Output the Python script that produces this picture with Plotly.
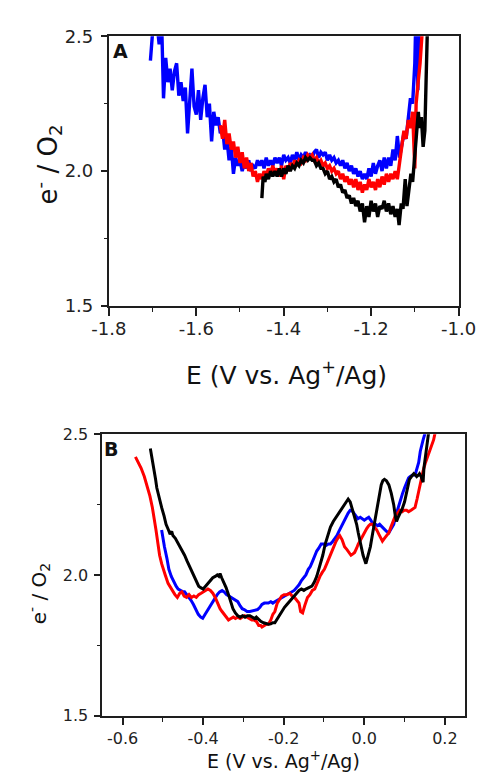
import plotly.graph_objects as go

# ---------------- Panel A: e-/O2 vs potential (V vs. Ag+/Ag) ----------------
a_blue_E = [-1.705, -1.700, -1.695, -1.690, -1.685, -1.680, -1.675, -1.670, -1.665, -1.660,
            -1.655, -1.650, -1.645, -1.640, -1.635, -1.630, -1.625, -1.620, -1.615, -1.610,
            -1.605, -1.600, -1.595, -1.590, -1.585, -1.580, -1.575, -1.570, -1.565, -1.560,
            -1.555, -1.550, -1.545, -1.540, -1.535, -1.530, -1.525, -1.520, -1.515, -1.510,
            -1.505, -1.500, -1.495, -1.490, -1.485, -1.480, -1.475, -1.470, -1.465, -1.460,
            -1.455, -1.450, -1.445, -1.440, -1.435, -1.430, -1.425, -1.420, -1.415, -1.410,
            -1.405, -1.400, -1.395, -1.390, -1.385, -1.380, -1.375, -1.370, -1.365, -1.360,
            -1.355, -1.350, -1.345, -1.340, -1.335, -1.330, -1.325, -1.320, -1.315, -1.310,
            -1.305, -1.300, -1.295, -1.290, -1.285, -1.280, -1.275, -1.270, -1.265, -1.260,
            -1.255, -1.250, -1.245, -1.240, -1.235, -1.230, -1.225, -1.220, -1.215, -1.210,
            -1.205, -1.200, -1.195, -1.190, -1.185, -1.180, -1.175, -1.170, -1.165, -1.160,
            -1.155, -1.150, -1.145, -1.140, -1.135, -1.130, -1.125, -1.120, -1.115, -1.110,
            -1.105, -1.100, -1.097, -1.093, -1.089, -1.085]
a_blue_n = [2.41, 2.58, 2.62, 2.55, 2.47, 2.60, 2.27, 2.42, 2.33, 2.38,
            2.30, 2.37, 2.40, 2.28, 2.33, 2.26, 2.31, 2.14, 2.28, 2.38,
            2.24, 2.21, 2.30, 2.19, 2.27, 2.32, 2.20, 2.25, 2.11, 2.22,
            2.17, 2.20, 2.14, 2.16, 2.08, 2.12, 2.04, 2.09, 1.99, 2.05,
            2.02, 2.04, 2.00, 2.03, 2.01, 2.04, 2.00, 2.02, 2.01, 2.04,
            2.02, 2.04, 2.01, 2.05, 2.02, 2.04, 2.02, 2.05, 2.03, 2.05,
            2.02, 2.06, 2.04, 2.05, 2.03, 2.06, 2.04, 2.07, 2.04, 2.06,
            2.05, 2.07, 2.05, 2.06, 2.05, 2.07, 2.08, 2.05, 2.07, 2.06,
            2.07, 2.04, 2.06, 2.04, 2.05, 2.03, 2.04, 2.02, 2.04, 2.01,
            2.03, 2.00, 2.02, 1.99, 2.01, 1.98, 2.00, 1.97, 1.99, 1.97,
            2.01, 1.98, 2.03, 1.99, 2.02, 2.04, 2.00, 2.05, 2.01, 2.05,
            2.02, 2.08, 2.04, 2.13, 2.05, 2.10, 2.14, 2.12, 2.20, 2.27,
            2.25, 2.40, 2.62, 2.30, 2.65, 2.80]

a_red_E = [-1.545, -1.540, -1.535, -1.530, -1.525, -1.520, -1.515, -1.510, -1.505, -1.500,
           -1.495, -1.490, -1.485, -1.480, -1.475, -1.470, -1.465, -1.460, -1.455, -1.450,
           -1.445, -1.440, -1.435, -1.430, -1.425, -1.420, -1.415, -1.410, -1.405, -1.400,
           -1.395, -1.390, -1.385, -1.380, -1.375, -1.370, -1.365, -1.360, -1.355, -1.350,
           -1.345, -1.340, -1.335, -1.330, -1.325, -1.320, -1.315, -1.310, -1.305, -1.300,
           -1.295, -1.290, -1.285, -1.280, -1.275, -1.270, -1.265, -1.260, -1.255, -1.250,
           -1.245, -1.240, -1.235, -1.230, -1.225, -1.220, -1.215, -1.210, -1.205, -1.200,
           -1.195, -1.190, -1.185, -1.180, -1.175, -1.170, -1.165, -1.160, -1.155, -1.150,
           -1.145, -1.140, -1.135, -1.130, -1.125, -1.120, -1.115, -1.110, -1.105, -1.100,
           -1.097, -1.093, -1.088, -1.083, -1.078]
a_red_n = [2.17, 2.12, 2.19, 2.10, 2.14, 2.08, 2.11, 2.05, 2.09, 2.03,
           2.07, 2.01, 2.05, 2.00, 2.03, 1.98, 2.00, 1.96, 1.99, 1.97,
           2.00, 1.98, 2.01, 1.99, 2.02, 1.99, 2.01, 1.98, 2.02, 1.97,
           2.02, 2.00, 2.03, 2.01, 2.04, 2.02, 2.04, 2.03, 2.05, 2.04,
           2.06, 2.05, 2.06, 2.04, 2.05, 2.03, 2.04, 2.02, 2.03, 2.01,
           2.02, 2.00, 2.01, 1.99, 2.00, 1.97, 1.99, 1.96, 1.98, 1.95,
           1.97, 1.94, 1.97, 1.93, 1.96, 1.92, 1.95, 1.93, 1.97, 1.94,
           1.96, 1.93, 1.97, 1.94, 1.98, 1.95, 1.99, 1.96, 1.99, 1.97,
           2.00, 1.97, 2.03, 2.10, 2.15, 2.12, 2.19, 2.16, 2.22, 2.01,
           2.25, 2.32, 2.40, 2.52, 2.70]

a_black_E = [-1.450, -1.447, -1.443, -1.440, -1.435, -1.430, -1.425, -1.420, -1.415, -1.410,
             -1.405, -1.400, -1.395, -1.390, -1.385, -1.380, -1.375, -1.370, -1.365, -1.360,
             -1.355, -1.350, -1.345, -1.340, -1.335, -1.330, -1.325, -1.320, -1.315, -1.310,
             -1.305, -1.300, -1.295, -1.290, -1.285, -1.280, -1.275, -1.270, -1.265, -1.260,
             -1.255, -1.250, -1.245, -1.240, -1.235, -1.230, -1.225, -1.220, -1.215, -1.210,
             -1.205, -1.200, -1.195, -1.190, -1.185, -1.180, -1.175, -1.170, -1.165, -1.160,
             -1.155, -1.150, -1.145, -1.140, -1.136, -1.131, -1.127, -1.122, -1.118, -1.113,
             -1.109, -1.105, -1.100, -1.096, -1.092, -1.089, -1.085, -1.081, -1.077, -1.074,
             -1.070, -1.067]
a_black_n = [1.90, 1.98, 1.96, 1.99, 1.97, 2.00, 1.98, 2.00, 1.98, 2.01,
             1.98, 2.01, 1.99, 2.02, 2.00, 2.02, 2.01, 2.03, 2.02, 2.04,
             2.03, 2.05, 2.04, 2.05, 2.04, 2.04, 2.02, 2.03, 2.01, 2.01,
             1.99, 2.00, 1.97, 1.98, 1.96, 1.97, 1.94, 1.95, 1.92, 1.93,
             1.90, 1.91, 1.88, 1.90, 1.87, 1.89, 1.85, 1.88, 1.81, 1.87,
             1.83, 1.89, 1.85, 1.88, 1.83, 1.87, 1.86, 1.89, 1.85, 1.88,
             1.84, 1.87, 1.83, 1.86, 1.80, 1.88, 1.86, 1.97, 1.87, 1.93,
             1.99, 1.96, 2.05, 2.14, 2.22, 2.16, 2.20, 2.09, 2.15, 2.35,
             2.60, 2.80]

# ---------------- Panel B ----------------
b_red_E = [-0.568, -0.560, -0.554, -0.546, -0.538, -0.532, -0.526, -0.521, -0.517, -0.512,
           -0.508, -0.503, -0.499, -0.494, -0.487, -0.481, -0.476, -0.470, -0.464, -0.458,
           -0.453, -0.447, -0.441, -0.435, -0.429, -0.423, -0.417, -0.411, -0.405, -0.400,
           -0.394, -0.388, -0.382, -0.376, -0.370, -0.364, -0.358, -0.353, -0.347, -0.342,
           -0.337, -0.331, -0.325, -0.320, -0.314, -0.308, -0.302, -0.297, -0.291, -0.285,
           -0.279, -0.274, -0.268, -0.262, -0.257, -0.254, -0.249, -0.243, -0.238, -0.232,
           -0.227, -0.222, -0.216, -0.211, -0.205, -0.199, -0.192, -0.185, -0.179, -0.173,
           -0.167, -0.162, -0.158, -0.153, -0.148, -0.141, -0.135, -0.129, -0.123, -0.116,
           -0.110, -0.104, -0.099, -0.093, -0.087, -0.081, -0.077, -0.070, -0.064, -0.061,
           -0.055, -0.049, -0.043, -0.037, -0.033, -0.028, -0.024, -0.019, -0.015, -0.009,
           -0.004, 0.000, 0.006, 0.011, 0.015, 0.020, 0.025, 0.031, 0.036, 0.041,
           0.045, 0.050, 0.055, 0.061, 0.066, 0.071, 0.077, 0.083, 0.088, 0.094,
           0.099, 0.105, 0.110, 0.116, 0.121, 0.126, 0.131, 0.137, 0.141, 0.146,
           0.152, 0.157, 0.160, 0.166, 0.172, 0.178]
b_red_n = [2.42, 2.40, 2.38, 2.35, 2.31, 2.28, 2.24, 2.20, 2.16, 2.11,
           2.07, 2.04, 2.02, 2.00, 1.97, 1.955, 1.94, 1.93, 1.92, 1.935,
           1.94, 1.925, 1.92, 1.93, 1.92, 1.925, 1.92, 1.93, 1.935, 1.94,
           1.945, 1.95, 1.945, 1.935, 1.92, 1.90, 1.88, 1.87, 1.86, 1.85,
           1.84, 1.845, 1.85, 1.845, 1.85, 1.845, 1.85, 1.855, 1.85, 1.845,
           1.84, 1.84, 1.835, 1.82, 1.82, 1.815, 1.82, 1.825, 1.825, 1.84,
           1.86, 1.87, 1.90, 1.91, 1.925, 1.93, 1.93, 1.935, 1.925, 1.92,
           1.91, 1.90, 1.87, 1.865, 1.89, 1.92, 1.93, 1.945, 1.95, 1.975,
           1.995, 2.01, 2.02, 2.04, 2.06, 2.08, 2.10, 2.12, 2.135, 2.14,
           2.125, 2.10, 2.09, 2.075, 2.07, 2.075, 2.08, 2.095, 2.11, 2.125,
           2.14, 2.15, 2.165, 2.175, 2.18, 2.18, 2.17, 2.16, 2.145, 2.13,
           2.12, 2.13, 2.14, 2.15, 2.17, 2.19, 2.21, 2.22, 2.23, 2.225,
           2.23, 2.23, 2.225, 2.23, 2.235, 2.24, 2.27, 2.31, 2.34, 2.37,
           2.40, 2.42, 2.43, 2.46, 2.48, 2.52]

b_blue_E = [-0.503, -0.499, -0.496, -0.490, -0.485, -0.479, -0.473, -0.467, -0.462, -0.456,
            -0.450, -0.446, -0.440, -0.435, -0.430, -0.424, -0.418, -0.412, -0.406, -0.401,
            -0.395, -0.389, -0.384, -0.378, -0.372, -0.365, -0.359, -0.353, -0.348, -0.342,
            -0.336, -0.330, -0.325, -0.319, -0.314, -0.308, -0.303, -0.298, -0.291, -0.284,
            -0.277, -0.271, -0.265, -0.259, -0.254, -0.248, -0.243, -0.238, -0.232, -0.227,
            -0.222, -0.216, -0.210, -0.204, -0.198, -0.192, -0.186, -0.180, -0.174, -0.168,
            -0.162, -0.156, -0.150, -0.145, -0.139, -0.134, -0.128, -0.123, -0.118, -0.113,
            -0.107, -0.101, -0.095, -0.089, -0.084, -0.078, -0.073, -0.068, -0.063, -0.058,
            -0.054, -0.049, -0.044, -0.040, -0.035, -0.031, -0.026, -0.021, -0.016, -0.010,
            -0.005, 0.000, 0.005, 0.011, 0.016, 0.022, 0.028, 0.033, 0.038, 0.044,
            0.050, 0.055, 0.061, 0.067, 0.073, 0.078, 0.084, 0.090, 0.095, 0.100,
            0.105, 0.110, 0.114, 0.120, 0.126, 0.131, 0.135, 0.139, 0.142, 0.146,
            0.150, 0.155]
b_blue_n = [2.16, 2.12, 2.10, 2.06, 2.02, 1.995, 1.975, 1.96, 1.95, 1.945,
            1.94, 1.94, 1.93, 1.92, 1.91, 1.895, 1.877, 1.86, 1.85, 1.846,
            1.86, 1.875, 1.885, 1.90, 1.915, 1.93, 1.94, 1.945, 1.94, 1.93,
            1.925, 1.92, 1.915, 1.91, 1.905, 1.89, 1.88, 1.877, 1.87, 1.87,
            1.872, 1.875, 1.877, 1.885, 1.895, 1.90, 1.90, 1.90, 1.905, 1.90,
            1.905, 1.91, 1.915, 1.92, 1.925, 1.93, 1.935, 1.94, 1.945, 1.955,
            1.965, 1.98, 1.99, 2.00, 2.02, 2.03, 2.05, 2.07, 2.085, 2.095,
            2.11, 2.11, 2.105, 2.11, 2.11, 2.12, 2.13, 2.14, 2.155, 2.17,
            2.18, 2.195, 2.21, 2.22, 2.23, 2.23, 2.22, 2.21, 2.20, 2.205,
            2.20, 2.195, 2.20, 2.205, 2.195, 2.18, 2.18, 2.175, 2.18, 2.17,
            2.16, 2.155, 2.15, 2.165, 2.18, 2.21, 2.24, 2.27, 2.29, 2.31,
            2.33, 2.345, 2.35, 2.355, 2.355, 2.38, 2.40, 2.44, 2.46, 2.48,
            2.50, 2.53]

b_black_E = [-0.531, -0.527, -0.522, -0.518, -0.515, -0.509, -0.503, -0.497, -0.492, -0.486,
             -0.482, -0.478, -0.475, -0.469, -0.463, -0.457, -0.452, -0.446, -0.440, -0.434,
             -0.428, -0.423, -0.417, -0.411, -0.406, -0.400, -0.394, -0.388, -0.382, -0.376,
             -0.370, -0.365, -0.361, -0.358, -0.354, -0.349, -0.343, -0.337, -0.331, -0.326,
             -0.320, -0.314, -0.308, -0.302, -0.296, -0.290, -0.284, -0.278, -0.272, -0.268,
             -0.262, -0.257, -0.250, -0.244, -0.238, -0.232, -0.227, -0.222, -0.216, -0.210,
             -0.204, -0.198, -0.192, -0.186, -0.180, -0.174, -0.169, -0.162, -0.156, -0.150,
             -0.145, -0.138, -0.130, -0.124, -0.118, -0.113, -0.108, -0.103, -0.097, -0.091,
             -0.084, -0.077, -0.070, -0.064, -0.058, -0.054, -0.047, -0.040, -0.035, -0.031,
             -0.025, -0.019, -0.015, -0.009, -0.003, 0.004, 0.010, 0.015, 0.021, 0.026,
             0.031, 0.036, 0.042, 0.046, 0.050, 0.055, 0.061, 0.067, 0.073, 0.077,
             0.080, 0.084, 0.089, 0.094, 0.100, 0.105, 0.109, 0.112, 0.117, 0.123,
             0.127, 0.130, 0.134, 0.137, 0.141, 0.146, 0.148, 0.152, 0.156, 0.160]
b_black_n = [2.45, 2.42, 2.38, 2.34, 2.31, 2.27, 2.24, 2.21, 2.18, 2.16,
             2.145, 2.155, 2.14, 2.13, 2.115, 2.10, 2.085, 2.07, 2.05, 2.03,
             2.015, 2.00, 1.98, 1.96, 1.955, 1.95, 1.96, 1.97, 1.98, 1.99,
             1.995, 2.00, 1.995, 2.005, 1.99, 1.975, 1.955, 1.93, 1.905, 1.88,
             1.865, 1.855, 1.85, 1.855, 1.85, 1.855, 1.855, 1.85, 1.845, 1.85,
             1.84, 1.835, 1.83, 1.827, 1.825, 1.826, 1.83, 1.83, 1.845, 1.855,
             1.87, 1.885, 1.895, 1.905, 1.915, 1.925, 1.935, 1.945, 1.95, 1.945,
             1.95, 1.955, 1.96, 1.975, 1.995, 2.02, 2.045, 2.07, 2.11, 2.14,
             2.17, 2.19, 2.205, 2.22, 2.23, 2.24, 2.255, 2.27, 2.26, 2.24,
             2.21, 2.18, 2.15, 2.11, 2.07, 2.04, 2.075, 2.10, 2.15, 2.19,
             2.23, 2.27, 2.32, 2.335, 2.34, 2.335, 2.32, 2.29, 2.25, 2.21,
             2.19, 2.205, 2.22, 2.235, 2.26, 2.29, 2.32, 2.34, 2.35, 2.36,
             2.355, 2.35, 2.355, 2.36, 2.35, 2.33, 2.38, 2.43, 2.47, 2.51]

# Axis ticks
a_x_ticks = [-1.8, -1.6, -1.4, -1.2, -1.0]
a_x_labels = ["-1.8", "-1.6", "-1.4", "-1.2", "-1.0"]
b_x_ticks = [-0.6, -0.4, -0.2, 0.0, 0.2]
b_x_labels = ["-0.6", "-0.4", "-0.2", "0.0", "0.2"]
y_ticks = [1.5, 2.0, 2.5]
y_labels = ["1.5", "2.0", "2.5"]

for E, n in [(a_blue_E, a_blue_n), (a_red_E, a_red_n), (a_black_E, a_black_n),
             (b_red_E, b_red_n), (b_blue_E, b_blue_n), (b_black_E, b_black_n)]:
    assert len(E) == len(n), (len(E), len(n))

W, H = 496, 783
FONT = "DejaVu Sans, Liberation Sans, Arial, sans-serif"
AX = "#1e1e1e"

fig = go.Figure()
for E, n, c in [(a_blue_E, a_blue_n, "#0000ff"), (a_red_E, a_red_n, "#ff0000"),
                (a_black_E, a_black_n, "#000000")]:
    fig.add_trace(go.Scatter(x=E, y=n, mode="lines", line=dict(color=c, width=3.4),
                             xaxis="x", yaxis="y", hoverinfo="skip"))
for E, n, c in [(b_blue_E, b_blue_n, "#0000ff"), (b_red_E, b_red_n, "#ff0000"),
                (b_black_E, b_black_n, "#000000")]:
    fig.add_trace(go.Scatter(x=E, y=n, mode="lines", line=dict(color=c, width=3),
                             xaxis="x2", yaxis="y2", hoverinfo="skip"))


def axis_style(size, major_len, standoff):
    return dict(showline=True, linecolor=AX, linewidth=2, mirror=True,
                ticks="outside", ticklen=major_len, tickwidth=1.6, tickcolor=AX,
                showgrid=False, zeroline=False, fixedrange=True,
                tickfont=dict(family=FONT, size=size, color="#222"),
                ticklabelstandoff=standoff, tickmode="array")


fig.update_layout(
    width=W, height=H, margin=dict(l=0, r=0, t=0, b=0),
    paper_bgcolor="white", plot_bgcolor="white", showlegend=False,
    xaxis=dict(domain=[98 / W, 475 / W], range=[-1.8, -1.0],
               tickvals=a_x_ticks, ticktext=a_x_labels, anchor="y",
               minor=dict(dtick=0.1, tick0=0, ticks="outside", ticklen=4, tickwidth=1.4, tickcolor=AX),
               **axis_style(18, 8, -2)),
    yaxis=dict(domain=[1 - 303 / H, 1 - 26 / H], range=[1.5, 2.5],
               tickvals=y_ticks, ticktext=y_labels, anchor="x",
               minor=dict(dtick=0.25, tick0=0, ticks="outside", ticklen=3, tickwidth=1.4, tickcolor=AX),
               **axis_style(18, 6, 4)),
    xaxis2=dict(domain=[91 / W, 482 / W], range=[-0.65, 0.25],
                tickvals=b_x_ticks, ticktext=b_x_labels, anchor="y2",
                minor=dict(dtick=0.1, tick0=0, ticks="outside", ticklen=4, tickwidth=1.4, tickcolor=AX),
                **axis_style(16, 7, 0)),
    yaxis2=dict(domain=[1 - 724 / H, 1 - 435 / H], range=[1.5, 2.5],
                tickvals=y_ticks, ticktext=y_labels, anchor="x2",
                minor=dict(dtick=0.25, tick0=0, ticks="outside", ticklen=3, tickwidth=1.4, tickcolor=AX),
                **axis_style(16, 6, 3)),
)


def note(text, px, py, size, angle=0, bold=False):
    fig.add_annotation(text=f"<b>{text}</b>" if bold else text,
                       x=px / W, y=1 - py / H, xref="paper", yref="paper",
                       xanchor="center", yanchor="middle", showarrow=False,
                       textangle=angle, font=dict(family=FONT, size=size, color="#111"))


note("e<sup>-</sup> / O<sub>2</sub>", 32, 158, 26, angle=-90)
note("E (V vs. Ag<sup>+</sup>/Ag)", 290, 373, 25)
note("A", 110, 41, 19, bold=True)
note("e<sup>-</sup> / O<sub>2</sub>", 23, 598, 20, angle=-90)
note("E (V vs. Ag<sup>+</sup>/Ag)", 286, 770, 19)
note("B", 100, 450, 19, bold=True)

fig.write_html("out.html")
